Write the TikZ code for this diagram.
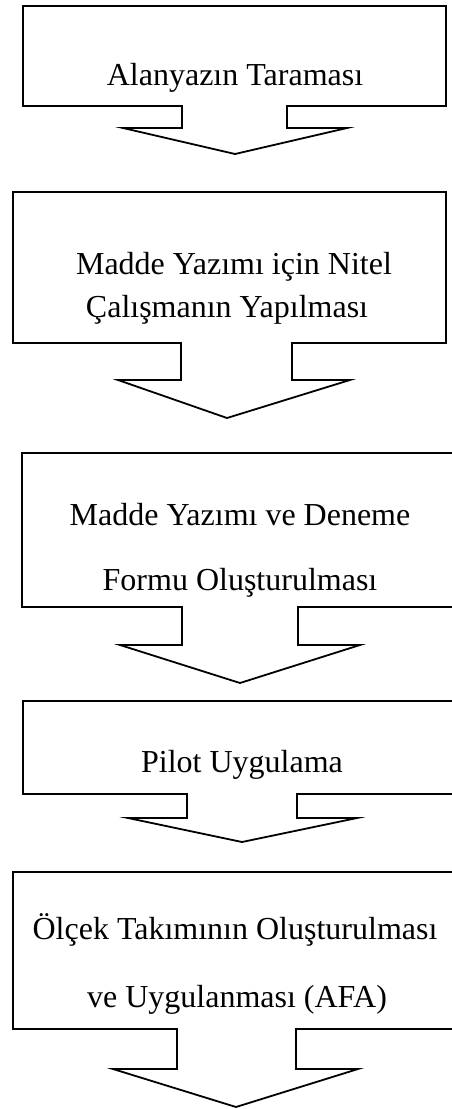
\documentclass[tikz,border=0pt]{standalone}
\usepackage{fontspec}
\setmainfont{Liberation Serif}
\begin{document}
\begin{tikzpicture}[x=1pt,y=-1pt,
  callout/.style={draw=black,line width=1.8pt,fill=white,line join=miter},
  lbl/.style={anchor=base,inner sep=0pt,font=\fontsize{32}{38}\selectfont}]
\useasboundingbox (0,0) rectangle (452,1109);
\clip (0,0) rectangle (452,1109);
\fill[white] (0,0) rectangle (452,1109);
% shape 1
\draw[callout] (23,6) -- (446,6) -- (446,106) -- (287,106) -- (287,128) -- (347,128)
  -- (235,154) -- (123,128) -- (182,128) -- (182,106) -- (23,106) -- cycle;
\node[lbl] (t1) at (235,85) {Alanyazın Taraması};
% shape 2
\draw[callout] (13,192) -- (446,192) -- (446,343) -- (292,343) -- (292,380) -- (350,380)
  -- (227,418) -- (118,380) -- (181,380) -- (181,343) -- (13,343) -- cycle;
\node[lbl] (t2a) at (234,274) {Madde Yazımı için Nitel};
\node[lbl] (t2b) at (227,317) {Çalışmanın Yapılması};
% shape 3
\draw[callout] (22,453) -- (470,453) -- (470,607) -- (298,607) -- (298,645) -- (360,645)
  -- (240,683) -- (120,645) -- (182,645) -- (182,607) -- (22,607) -- cycle;
\node[lbl] (t3a) at (240,525) {Madde Yazımı ve Deneme};
\node[lbl] (t3b) at (240,590) {Formu Oluşturulması};
% shape 4
\draw[callout] (23,701) -- (470,701) -- (470,794) -- (297,794) -- (297,818) -- (357,818)
  -- (242,842) -- (128,818) -- (187,818) -- (187,794) -- (23,794) -- cycle;
\node[lbl] (t4) at (242,772) {Pilot Uygulama};
% shape 5
\draw[callout] (13,872) -- (470,872) -- (470,1029) -- (296,1029) -- (296,1069) -- (358,1069)
  -- (236,1107) -- (113,1069) -- (177,1069) -- (177,1029) -- (13,1029) -- cycle;
\node[lbl] (t5a) at (235,939) {Ölçek Takımının Oluşturulması};
\node[lbl] (t5b) at (237,1007) {ve Uygulanması (AFA)};
\end{tikzpicture}
\end{document}
